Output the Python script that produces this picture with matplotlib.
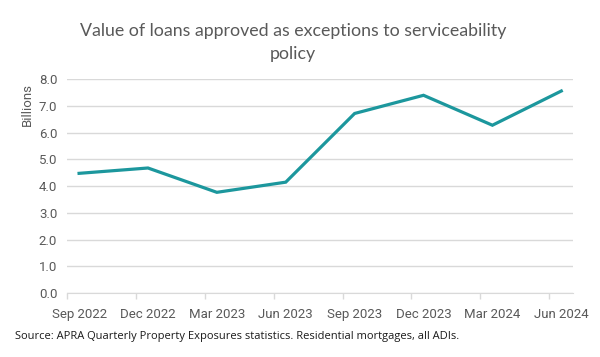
import numpy as np
import matplotlib.pyplot as plt

quarters = ["Sep 2022", "Dec 2022", "Mar 2023", "Jun 2023",
            "Sep 2023", "Dec 2023", "Mar 2024", "Jun 2024"]
exceptions_bn = [4.48, 4.68, 3.77, 4.15, 6.72, 7.40, 6.28, 7.56]
y_ticks = [0, 1, 2, 3, 4, 5, 6, 7, 8]

grey = "#595959"
teal = "#1c979d"

fig = plt.figure(figsize=(6, 3.57), dpi=100)
ax = fig.add_axes([0.1117, 0.179, 0.8433, 0.599])

x = np.arange(len(quarters))
ax.plot(x, exceptions_bn, color=teal, lw=2.3, solid_joinstyle="miter", zorder=3)

ax.set_xlim(-0.175, len(quarters) - 1 + 0.17)
ax.set_ylim(0, 8)
ax.set_yticks(y_ticks)
ax.set_yticklabels([f"{v:.1f}" for v in y_ticks])
ax.yaxis.grid(True, color="#d9d9d9", lw=1)
ax.set_axisbelow(True)

ax.set_xticks(x)
ax.set_xticklabels(quarters)
ax.set_xticks(x - 0.175, minor=True)
ax.tick_params(axis="x", which="major", length=0, pad=11)
ax.tick_params(axis="x", which="minor", length=4, color="#d9d9d9", width=1)
ax.tick_params(axis="y", length=0, pad=7)
for lab in ax.get_xticklabels() + ax.get_yticklabels():
    lab.set_fontfamily("Roboto")
    lab.set_fontsize(9.5)
    lab.set_color(grey)

for s in ["top", "right", "left"]:
    ax.spines[s].set_visible(False)
ax.spines["bottom"].set_color("#d9d9d9")

ax.set_ylabel("Billions", fontfamily="Roboto", fontsize=9.5, color=grey)
ax.yaxis.set_label_coords(-0.066, 0.88)

fig.text(0.488, 0.881, "Value of loans approved as exceptions to serviceability\npolicy",
         ha="center", va="center", fontfamily="Lato", fontsize=12.8,
         color=grey, linespacing=1.5)
fig.text(0.025, 0.058, "Source: APRA Quarterly Property Exposures statistics. Residential mortgages, all ADIs.",
         ha="left", va="center", fontfamily="Open Sans", fontsize=8.0, color="#1a1a1a")

fig.savefig("out.png", dpi=100)
